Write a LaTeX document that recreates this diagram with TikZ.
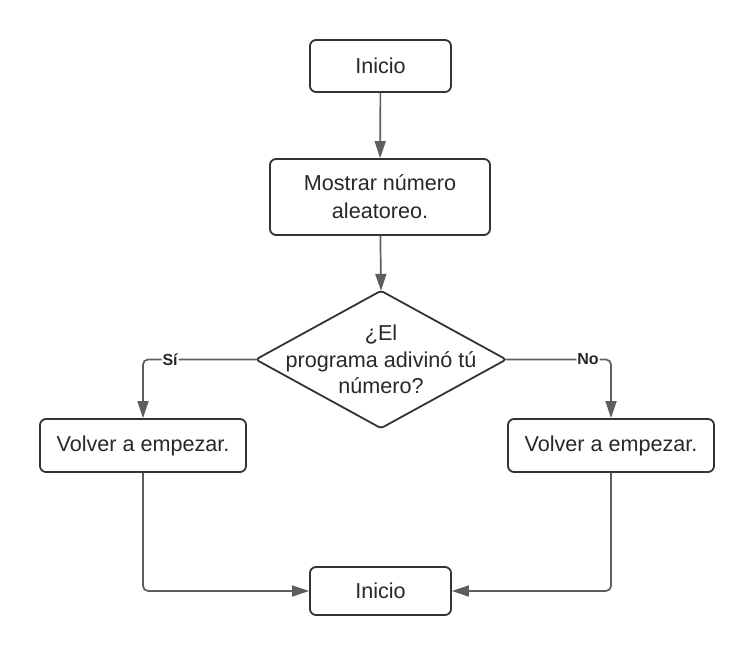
\documentclass[tikz,border=0pt]{standalone}
\usepackage{fontspec}
\setmainfont{Liberation Sans}
\usetikzlibrary{arrows.meta}
\definecolor{boxc}{HTML}{333333}
\definecolor{conc}{HTML}{5E5E5E}
\definecolor{txtc}{HTML}{282828}
\begin{document}
\begin{tikzpicture}[x=1pt,y=-1pt,
  proc/.style={draw=boxc, line width=1.8pt, rounded corners=6pt, fill=white,
    font=\fontsize{21.6}{28}\selectfont, text=txtc, align=center, inner sep=0pt},
  conn/.style={draw=conc, line width=1.7pt, rounded corners=5pt,
    -{Triangle[length=17pt,width=11pt]}},
  lbl/.style={fill=white, inner sep=1pt, font=\fontsize{16}{18}\selectfont\bfseries, text=txtc}]
\useasboundingbox (0,0) rectangle (754,655);
\node[proc, minimum width=141pt, minimum height=52pt] (top) at (380.5,66) {Inicio};
\node[proc, minimum width=220pt, minimum height=76pt] (mostrar) at (380,197) {Mostrar número\\aleatoreo.};
\node[minimum width=250pt, minimum height=137pt, inner sep=0pt] (dec) at (381,359.5) {};
\draw[boxc, line width=1.8pt, rounded corners=3pt, fill=white] (dec.north) -- (dec.east) -- (dec.south) -- (dec.west) -- cycle;
\node[font=\fontsize{21.6}{26.5}\selectfont, text=txtc, align=center] (dectext) at (dec.center) {¿El\\programa adivinó tú\\número?};
\node[proc, minimum width=206pt, minimum height=53pt] (left) at (143,445.5) {Volver a empezar.};
\node[proc, minimum width=206pt, minimum height=53pt] (right) at (611,445.5) {Volver a empezar.};
\node[proc, minimum width=141pt, minimum height=48pt] (bottom) at (380.5,591) {Inicio};
\draw[conn] (top) -- (mostrar);
\draw[conn] (mostrar) -- (dec.north);
\draw[conn] (dec.west) -| node[lbl, pos=0.38] {Sí} (left);
\draw[conn] (dec.east) -| node[lbl, pos=0.39] {No} (right);
\draw[conn] (left) |- (bottom);
\draw[conn] (right) |- (bottom);
\end{tikzpicture}
\end{document}
